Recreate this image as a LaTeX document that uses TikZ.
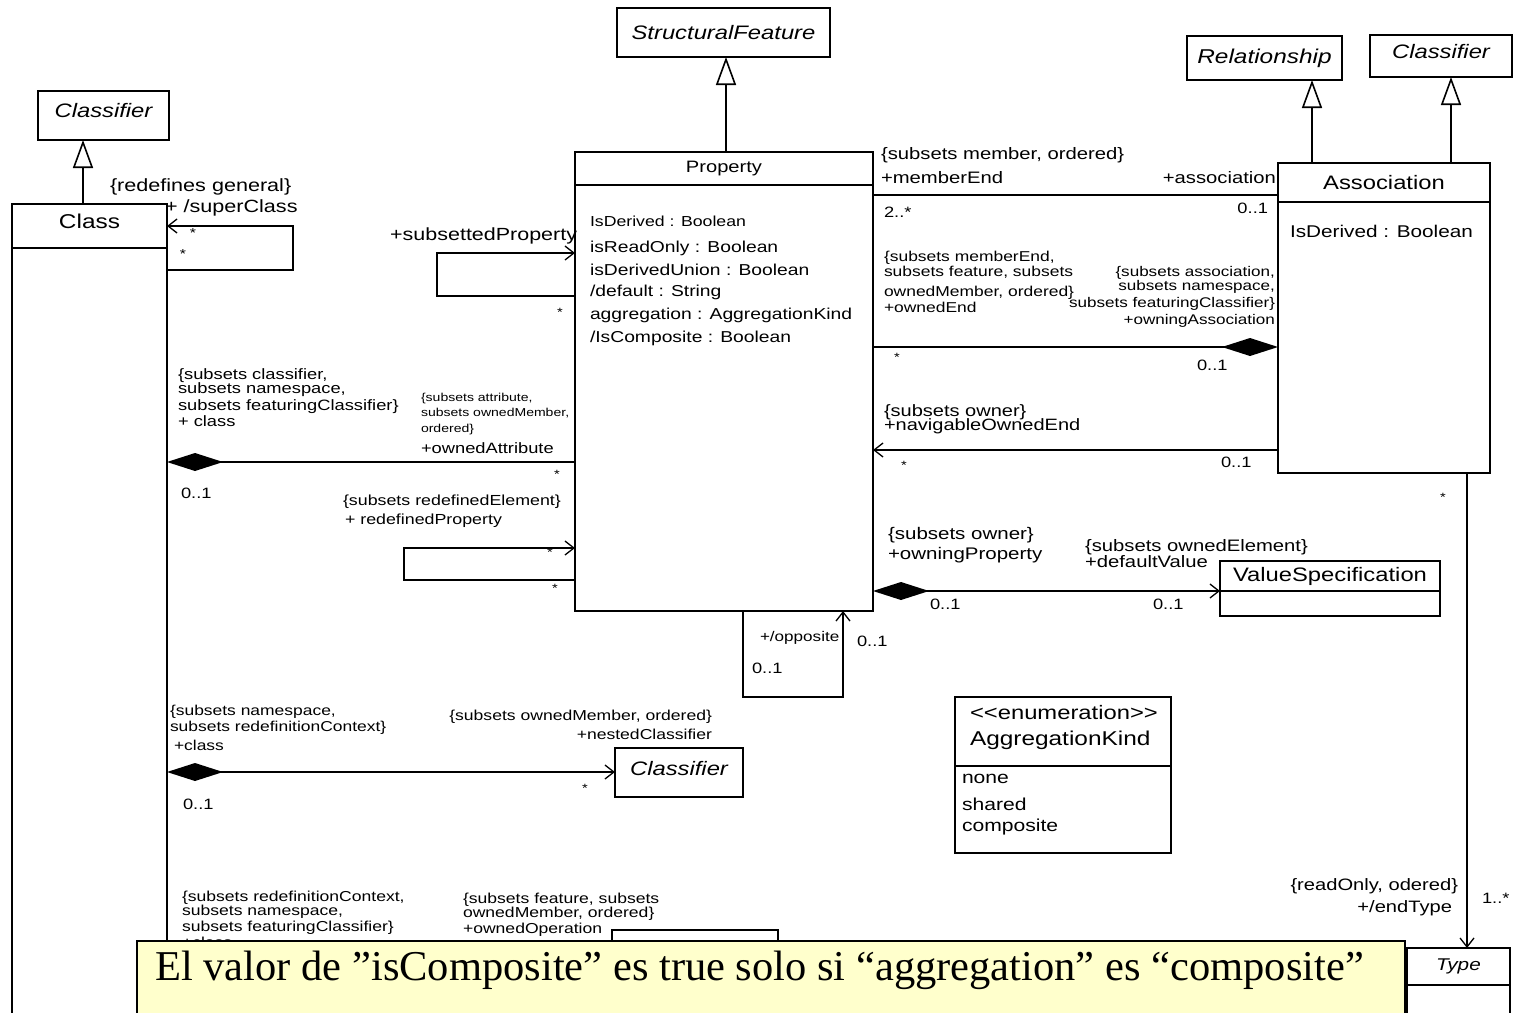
\documentclass[tikz,border=0pt]{standalone}
\usepackage{fontspec}
\setmainfont{Liberation Sans}
\newfontfamily\umlfont[FakeStretch=1.22]{Liberation Sans}
\newfontfamily\notefont{Liberation Serif}
\usetikzlibrary{arrows.meta}
\newcommand\fsize[1]{\fontsize{#1}{#1}\selectfont}
\definecolor{notebg}{RGB}{255,255,204}

\tikzset{
  box/.style={draw, line width=1.8pt, anchor=north west, inner sep=0pt, outer sep=0pt,
              font=\umlfont\fsize{19.5}},
  abstract/.style={font=\umlfont\itshape\fsize{19.5}},
  lift/.style={text depth=#1},
  lbl/.style={inner sep=0pt, outer sep=0pt, font=\umlfont\fsize{#1}},
  link/.style={line width=1.8pt},
  gen/.style={link, -{Triangle[open, length=28pt, width=20pt, line width=1.6pt]}},
  nav/.style={link, -{Straight Barb[length=9pt, width=14pt, line width=1.3pt]}},
  compo/.style={link, {Diamond[length=56pt, width=18pt]}-},
  componav/.style={link, {Diamond[length=56pt, width=18pt]}-{Straight Barb[length=9pt, width=14pt, line width=1.3pt]}},
}

\begin{document}
\begin{tikzpicture}[x=1pt, y=-1pt]
\useasboundingbox (0,0) rectangle (1514,1012);
\clip (0,0) rectangle (1514,1012);

% ---------- classes ----------
\node[box, abstract, lift=10pt, minimum width=131pt, minimum height=49pt] (clsL) at (38,91) {Classifier};
\node[box, lift=10pt, minimum width=155pt, minimum height=44pt, font=\umlfont\fsize{20}] (classhead) at (12,204) {Class};
\node[box, minimum width=155pt, minimum height=790pt] (classbody) at (12,248) {};

\node[box, abstract, minimum width=213pt, minimum height=49pt] (sf) at (617,8) {StructuralFeature};
\node[box, minimum width=298pt, minimum height=33pt, font=\umlfont\fsize{16.5}] (prophead) at (575,152) {Property};
\node[box, minimum width=298pt, minimum height=426pt] (propbody) at (575,185) {};

\node[box, abstract, minimum width=155pt, minimum height=44pt, font=\umlfont\itshape\fsize{20}] (rel) at (1187,36) {Relationship};
\node[box, abstract, lift=10pt, minimum width=142pt, minimum height=42pt] (clsR) at (1370,35) {Classifier};
\node[box, minimum width=212pt, minimum height=39pt] (assochead) at (1278,163) {Association};
\node[box, minimum width=212pt, minimum height=271pt] (assocbody) at (1278,202) {};

\node[box, lift=4pt, minimum width=220pt, minimum height=30pt] (vshead) at (1220,561) {ValueSpecification};
\node[box, minimum width=220pt, minimum height=25pt] (vsbody) at (1220,591) {};

\node[box, abstract, minimum width=103pt, minimum height=37pt, font=\umlfont\itshape\fsize{17}] (typehead) at (1407,948) {Type};
\node[box, minimum width=103pt, minimum height=40pt] (typebody) at (1407,985) {};

\node[box, abstract, lift=8pt, minimum width=128pt, minimum height=49pt] (clsN) at (615,748) {Classifier};

\node[box, minimum width=216pt, minimum height=69pt] (enumhead) at (955,697) {};
\node[box, minimum width=216pt, minimum height=87pt] (enumbody) at (955,766) {};

\node[box, minimum width=166pt, minimum height=100pt] (ophead) at (612,930) {};

% ---------- attributes ----------
\node[lbl=14.5, anchor=west] (pa1) at (590,221) {IsDerived : Boolean};
\node[lbl=15.8, anchor=west] (pa2) at (590,248) {isReadOnly : Boolean};
\node[lbl=15.8, anchor=west] (pa3) at (590,270) {isDerivedUnion : Boolean};
\node[lbl=15.8, anchor=west] (pa4) at (590,292) {/default : String};
\node[lbl=15.8, anchor=west] (pa5) at (590,315) {aggregation : AggregationKind};
\node[lbl=15.8, anchor=west] (pa6) at (590,338) {/IsComposite : Boolean};

\node[lbl=17, anchor=west] (aa1) at (1290,231) {IsDerived : Boolean};

\node[lbl=19.5, anchor=west] (ek1) at (970,713) {<{}<enumeration>{}>};
\node[lbl=20, anchor=west] (ek2) at (970,740) {AggregationKind};
\node[lbl=17.3, anchor=west] (ek3) at (962,779) {none};
\node[lbl=17.3, anchor=west] (ek4) at (962,804) {shared};
\node[lbl=17.3, anchor=west] (ek5) at (962,827) {composite};

% ---------- generalizations ----------
\coordinate (g1) at ([xshift=-6.5pt]classhead.north);
\draw[gen] (g1) -- (g1 |- clsL.south);
\coordinate (g2) at ([xshift=2pt]prophead.north);
\draw[gen] (g2) -- (g2 |- sf.south);
\coordinate (g3) at ([xshift=-72pt]assochead.north);
\draw[gen] (g3) -- (g3 |- rel.south);
\coordinate (g4) at ([xshift=67pt]assochead.north);
\draw[gen] (g4) -- (g4 |- clsR.south);

% ---------- Class: superClass ----------
\draw[nav] ([yshift=-22pt]classbody.north east) -- ++(126,0) |- (classhead.east);
\node[lbl=17.7, anchor=west] (sc1) at (110,187) {\{redefines general\}};
\node[lbl=17.7, anchor=west] (sc2) at (165,208) {+ /superClass};
\node[lbl=13] (sc3) at (193,233) {*};
\node[lbl=13] (sc4) at (183,254) {*};

% ---------- Property: subsettedProperty ----------
\draw[nav] ([yshift=-111pt]propbody.north west) -- ++(-138,0) |- ([yshift=-68pt]propbody.north west);
\node[lbl=17.6, anchor=east] (sp1) at (577,236) {+subsettedProperty};
\node[lbl=12] (sp2) at (560,312) {*};

% ---------- Property: redefinedProperty ----------
\draw[nav] ([yshift=-395pt]propbody.north west) -- ++(-171,0) |- ([yshift=-363pt]propbody.north west);
\node[lbl=14.6, anchor=west] (rp1) at (343,502) {\{subsets redefinedElement\}};
\node[lbl=14.6, anchor=west] (rp2) at (345,521) {+ redefinedProperty};
\node[lbl=12] (rp3) at (550,552) {*};
\node[lbl=12] (rp4) at (555,588) {*};

% ---------- Property: opposite ----------
\draw[nav] ([xshift=19pt]propbody.south) -- ++(0,86) -| ([xshift=119pt]propbody.south);
\node[lbl=14, anchor=west] (op1) at (760,638) {+/opposite};
\node[lbl=15, anchor=west] (op2) at (752,668) {0..1};
\node[lbl=15, anchor=west] (op3) at (857,641) {0..1};

% ---------- memberEnd / association ----------
\coordinate (pm) at ([yshift=-10pt]propbody.north east);
\draw[link] (pm) -- (assochead.west |- pm);
\node[lbl=16.6, anchor=west] (me1) at (881,155) {\{subsets member, ordered\}};
\node[lbl=16.6, anchor=west] (me2) at (881,178) {+memberEnd};
\node[lbl=16.6, anchor=east] (me3) at (1276,178) {+association};
\node[lbl=15, anchor=west] (me4) at (884,212) {2..*};
\node[lbl=15, anchor=east] (me5) at (1268,208) {0..1};

% ---------- ownedEnd / owningAssociation ----------
\coordinate (pe) at ([yshift=-162pt]propbody.north east);
\draw[compo] (assocbody.west |- pe) -- (pe);
\node[lbl=14.3, anchor=west] (oe1) at (884,258) {\{subsets memberEnd,};
\node[lbl=14.3, anchor=west] (oe2) at (884,272) {subsets feature, subsets};
\node[lbl=14.3, anchor=west] (oe3) at (884,293) {ownedMember, ordered\}};
\node[lbl=14.3, anchor=west] (oe4) at (884,307) {+ownedEnd};
\node[lbl=14, anchor=east] (oa1) at (1275,273) {\{subsets association,};
\node[lbl=14, anchor=east] (oa2) at (1275,287) {subsets namespace,};
\node[lbl=14, anchor=east] (oa3) at (1275,304) {subsets featuringClassifier\}};
\node[lbl=14, anchor=east] (oa4) at (1275,321) {+owningAssociation};
\node[lbl=12] (oe5) at (897,357) {*};
\node[lbl=15, anchor=west] (oa5) at (1197,365) {0..1};

% ---------- navigableOwnedEnd ----------
\coordinate (pn) at ([yshift=-265pt]propbody.north east);
\draw[nav] (assocbody.west |- pn) -- (pn);
\node[lbl=16.4, anchor=west] (no1) at (884,412) {\{subsets owner\}};
\node[lbl=16.4, anchor=west] (no2) at (884,426) {+navigableOwnedEnd};
\node[lbl=12] (no3) at (904,465) {*};
\node[lbl=15, anchor=west] (no4) at (1221,462) {0..1};

% ---------- ownedAttribute / class ----------
\coordinate (ca) at ([yshift=-214pt]classbody.north east);
\draw[compo] (ca) -- (propbody.west |- ca);
\node[lbl=15, anchor=west] (oc1) at (178,376) {\{subsets classifier,};
\node[lbl=15, anchor=west] (oc2) at (178,390) {subsets namespace,};
\node[lbl=15, anchor=west] (oc3) at (178,407) {subsets featuringClassifier\}};
\node[lbl=15, anchor=west] (oc4) at (178,421) {+ class};
\node[lbl=11.5, anchor=west] (ot1) at (421,399) {\{subsets attribute,};
\node[lbl=11.5, anchor=west] (ot2) at (421,413) {subsets ownedMember,};
\node[lbl=11.5, anchor=west] (ot3) at (421,430) {ordered\}};
\node[lbl=15, anchor=west] (ot4) at (421,448) {+ownedAttribute};
\node[lbl=12] (ot5) at (557,474) {*};
\node[lbl=15, anchor=west] (oc5) at (181,493) {0..1};

% ---------- defaultValue / owningProperty ----------
\coordinate (pd) at ([yshift=-406pt]propbody.north east);
\draw[componav] (pd) -- (vshead.south west);
\node[lbl=16.8, anchor=west] (dv1) at (888,535) {\{subsets owner\}};
\node[lbl=16.8, anchor=west] (dv2) at (888,555) {+owningProperty};
\node[lbl=16.6, anchor=west] (dv3) at (1085,547) {\{subsets ownedElement\}};
\node[lbl=16.6, anchor=west] (dv4) at (1085,562) {+defaultValue};
\node[lbl=15, anchor=west] (dv5) at (930,604) {0..1};
\node[lbl=15, anchor=west] (dv6) at (1153,604) {0..1};

% ---------- endType ----------
\coordinate (et) at ([xshift=83pt]assocbody.south);
\draw[nav] (et) -- (et |- typehead.north);
\node[lbl=12] (et1) at (1443,497) {*};
\node[lbl=16.5, anchor=east] (et2) at (1458,886) {\{readOnly, odered\}};
\node[lbl=16.5, anchor=east] (et3) at (1452,908) {+/endType};
\node[lbl=15, anchor=west] (et4) at (1482,898) {1..*};

% ---------- nestedClassifier ----------
\coordinate (cn) at ([yshift=-524pt]classbody.north east);
\draw[componav] (cn) -- (clsN.west |- cn);
\node[lbl=14.3, anchor=west] (nc1) at (170,712) {\{subsets namespace,};
\node[lbl=14.3, anchor=west] (nc2) at (170,728) {subsets redefinitionContext\}};
\node[lbl=14.3, anchor=west] (nc3) at (174,745) {+class};
\node[lbl=14.4, anchor=east] (nc4) at (712,717) {\{subsets ownedMember, ordered\}};
\node[lbl=14.4, anchor=east] (nc5) at (712,734) {+nestedClassifier};
\node[lbl=12] (nc6) at (585,788) {*};
\node[lbl=15, anchor=west] (nc7) at (183,804) {0..1};

% ---------- ownedOperation ----------
\node[lbl=14.4, anchor=west] (oo1) at (182,898) {\{subsets redefinitionContext,};
\node[lbl=14.4, anchor=west] (oo2) at (182,912) {subsets namespace,};
\node[lbl=14.4, anchor=west] (oo3) at (182,928) {subsets featuringClassifier\}};
\node[lbl=14.4, anchor=west] (oo4) at (182,942) {+class};
\node[lbl=14.4, anchor=west] (oo5) at (463,900) {\{subsets feature, subsets};
\node[lbl=14.4, anchor=west] (oo6) at (463,914) {ownedMember, ordered\}};
\node[lbl=14.4, anchor=west] (oo7) at (463,930) {+ownedOperation};

% ---------- note ----------
\node[draw, line width=1.5pt, fill=notebg, anchor=north west, inner sep=0pt,
      minimum width=1268pt, minimum height=80pt] (note) at (136,940) {};
\node[anchor=west, inner sep=0pt, font=\notefont\fsize{42.5}] (notetext) at (155,970)
  {El valor de ”isComposite” es true solo si “aggregation” es “composite”};
\end{tikzpicture}
\end{document}
